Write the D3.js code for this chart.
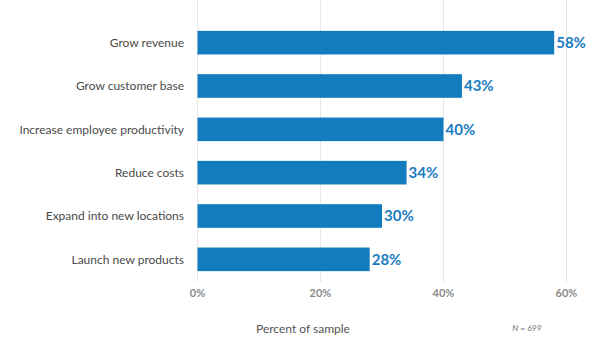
<!DOCTYPE html>
<html><head><meta charset="utf-8">
<script src="https://cdn.jsdelivr.net/npm/d3@7"></script>
<style>body{margin:0;background:#fff}svg{display:block;font-family:Lato,"Open Sans",sans-serif}</style>
</head><body>
<script>
const categories = ["Grow revenue","Grow customer base","Increase employee productivity","Reduce costs","Expand into new locations","Launch new products"];
const values = [58,43,40,34,30,28];
const tickValues = [0,20,40,60];
const xLabel = "Percent of sample";
const note = "N = 699";

const W=614,H=355;
const svg=d3.select("body").append("svg").attr("width",W).attr("height",H);
const x=d3.scaleLinear().domain([0,60]).range([197.5,566.5]);
const y=d3.scaleBand().domain(categories).range([21,281]).paddingInner(0.455).paddingOuter(0.2275);

svg.append("g").selectAll("line").data(tickValues).join("line")
 .attr("x1",d=>x(d)).attr("x2",d=>x(d)).attr("y1",0).attr("y2",282)
 .attr("stroke","#e6e6e6").attr("stroke-width",1);

svg.append("g").selectAll("text").data(tickValues).join("text")
 .attr("x",d=>x(d)).attr("y",297).attr("text-anchor","middle")
 .attr("font-size",11).attr("font-weight","bold").attr("fill","#8a8a8a")
 .text(d=>d+"%");

svg.append("g").selectAll("rect").data(values).join("rect")
 .attr("x",x(0)).attr("y",(d,i)=>y(categories[i])).attr("height",y.bandwidth())
 .attr("width",d=>x(d)-x(0)).attr("fill","#137cbf");

svg.append("g").selectAll("text").data(values).join("text")
 .attr("x",d=>x(d)+2).attr("y",(d,i)=>y(categories[i])+y.bandwidth()/2).attr("dy","0.36em")
 .attr("font-size",15).attr("font-weight","bold").attr("fill","#1a7cc0")
 .text(d=>d+"%");

svg.append("g").selectAll("text").data(categories).join("text")
 .attr("x",184).attr("y",d=>y(d)+y.bandwidth()/2).attr("dy","0.35em")
 .attr("text-anchor","end").attr("font-size",12).attr("fill","#4a4a4a").text(d=>d);

svg.append("text").attr("x",303).attr("y",333).attr("text-anchor","middle")
 .attr("font-size",12).attr("fill","#555").text(xLabel);
svg.append("text").attr("x",527).attr("y",331).attr("text-anchor","middle")
 .attr("font-size",8.5).attr("font-style","italic").attr("fill","#777").text(note);
</script>
</body></html>
